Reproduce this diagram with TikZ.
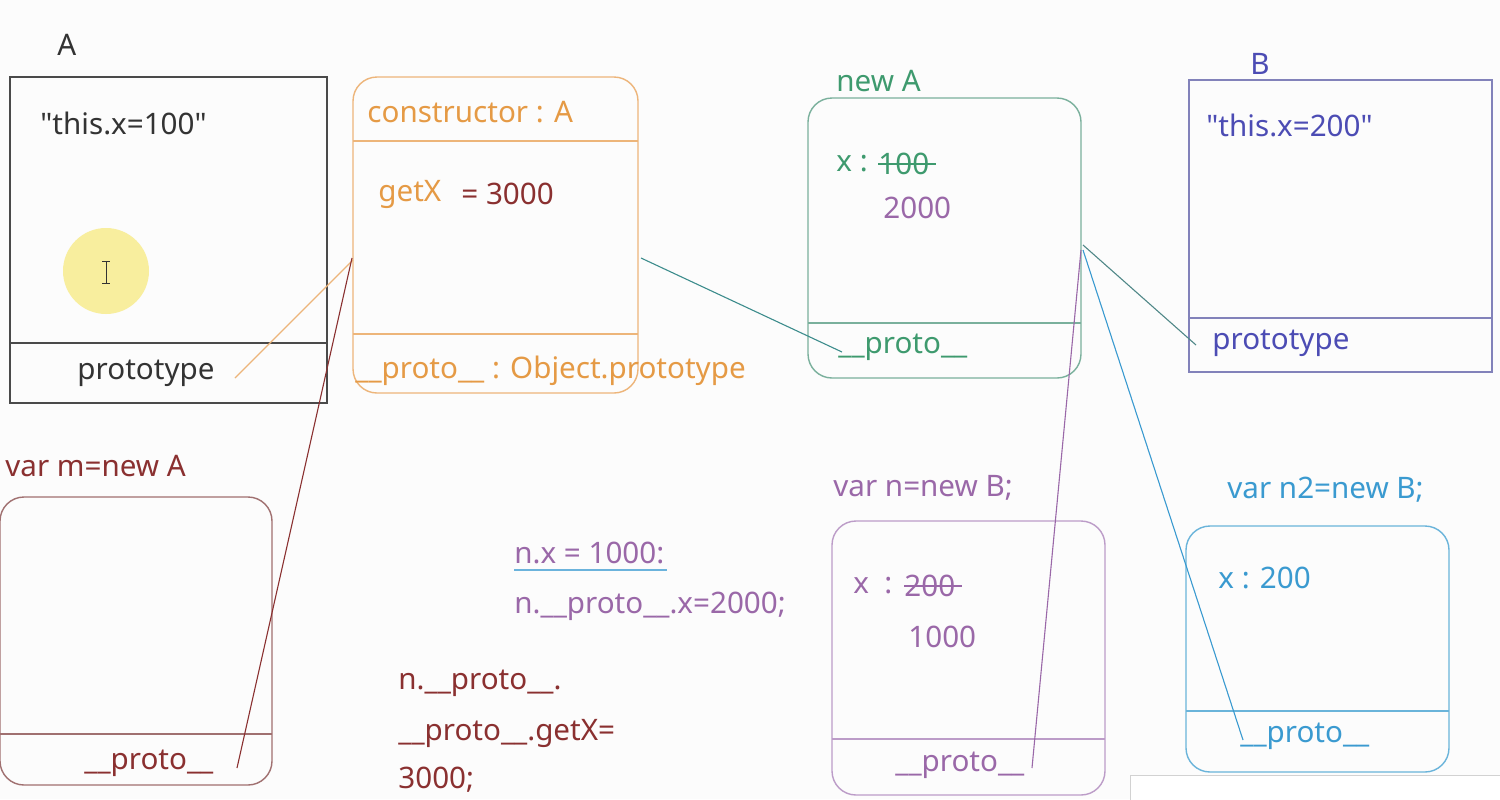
\documentclass[tikz,border=0pt]{standalone}
\usepackage{fontspec}
\setmainfont{Noto Sans}[Ligatures=TeXOff]
\usetikzlibrary{fit}
\definecolor{cA}{HTML}{333333}
\definecolor{cAbox}{HTML}{4A4A4A}
\definecolor{cOr}{HTML}{E59A45}
\definecolor{cOrBox}{HTML}{EDB57A}
\definecolor{cGr}{HTML}{3E9A6E}
\definecolor{cGrBox}{HTML}{7AB09C}
\definecolor{cB}{HTML}{4C4CB4}
\definecolor{cBBox}{HTML}{8282BA}
\definecolor{cM}{HTML}{8A3030}
\definecolor{cMBox}{HTML}{A07070}
\definecolor{cN}{HTML}{9A68A8}
\definecolor{cNBox}{HTML}{BC9CC8}
\definecolor{cC}{HTML}{3A9AD0}
\definecolor{cCBox}{HTML}{6AB4DA}
\definecolor{cTeal}{HTML}{3C8C8C}
\definecolor{cHi}{HTML}{F8EE9E}
\begin{document}
\begin{tikzpicture}[x=0.5pt,y=-0.5pt,
  font=\fontsize{14.8}{17}\selectfont,
  txt/.style={anchor=west, inner sep=0pt},
  ctxt/.style={anchor=center, inner sep=0pt},
  sqbox/.style={draw, inner sep=0pt, line width=0.7pt},
  rbox/.style={draw, inner sep=0pt, line width=0.7pt, rounded corners=12pt},
  link/.style={line width=0.55pt}]
\fill[white!98!gray] (0,0) rectangle (1500,799);
\useasboundingbox (0,0) rectangle (1500,799);

% ---------- Box A ----------
\coordinate (a1) at (10,77); \coordinate (a2) at (327,403);
\node[sqbox, cAbox, fit=(a1)(a2)] (boxA) {};
\draw[cAbox, line width=0.7pt] (10,343) -- (327,343);
\node[txt, cA] (lA) at (57,45) {A};
\node[txt, cA] (tAx) at (40,123) {"this.x=100"};
\fill[cHi] (106,271) circle[radius=43];
\draw[cA, line width=0.5pt] (106,261) -- (106,283) (102,261) -- (110,261) (102,283) -- (110,283);
\node[ctxt, cA] (tAp) at (146,373) {prototype};

% ---------- Orange prototype box ----------
\coordinate (o1) at (353,77); \coordinate (o2) at (638,393);
\node[rbox, cOrBox, fit=(o1)(o2)] (boxO) {};
\draw[cOrBox, line width=0.7pt] (353,141) -- (638,141) (353,334) -- (638,334);
\node[txt, cOr] (oCon) at (367,112) {constructor : A};
\node[txt, cOr] (oGet) at (378,194) {getX};
\node[txt, cM] (oVal) at (461,194) {= 3000};
\node[txt, cOr] (oProto) at (355,371) {\_\_proto\_\_ : Object.prototype};

% ---------- Green new A ----------
\coordinate (g1) at (808,98); \coordinate (g2) at (1081,378);
\node[rbox, cGrBox, fit=(g1)(g2)] (boxG) {};
\draw[cGrBox, line width=0.7pt] (808,323) -- (1081,323);
\node[txt, cGr] (gLab) at (836,81) {new A};
\node[txt, cGr] (gx) at (836,164) {x :};
\node[txt, cGr] (g100) at (878,164) {100};
\draw[cGr, line width=0.6pt] (g100.west) -- ([xshift=3pt]g100.east);
\node[txt, cN] (g2000) at (883,208) {2000};
\node[txt, cGr] (gProto) at (838,347) {\_\_proto\_\_};

% ---------- Box B ----------
\coordinate (b1) at (1189,80); \coordinate (b2) at (1492,372);
\node[sqbox, cBBox, fit=(b1)(b2)] (boxB) {};
\draw[cBBox, line width=0.7pt] (1189,318) -- (1492,318);
\node[txt, cB] (bLab) at (1250,64) {B};
\node[txt, cB] (bThis) at (1206,125) {"this.x=200"};
\node[txt, cB] (bProto) at (1212,343) {prototype};

% ---------- var m ----------
\coordinate (m1) at (0,497); \coordinate (m2) at (272,785);
\node[rbox, cMBox, fit=(m1)(m2)] (boxM) {};
\draw[cMBox, line width=0.7pt] (0,734) -- (272,734);
\node[txt, cM] (mLab) at (5,466) {var m=new A};
\node[txt, cM] (mProto) at (84,763) {\_\_proto\_\_};

% ---------- var n ----------
\coordinate (n1) at (832,521); \coordinate (n2) at (1105,795);
\node[rbox, cNBox, fit=(n1)(n2)] (boxN) {};
\draw[cNBox, line width=0.7pt] (832,739) -- (1105,739);
\node[txt, cN] (nLab) at (833,488) {var n=new B;};
\node[txt, cN] (nx) at (853,586) {x~~:};
\node[txt, cN] (n200) at (904,586) {200};
\draw[cN, line width=0.6pt] (n200.west) -- ([xshift=3pt]n200.east);
\node[txt, cN] (n1000) at (908,637) {1000};
\node[txt, cN] (nProto) at (895,765) {\_\_proto\_\_};

% ---------- var n2 ----------
\coordinate (c1) at (1186,526); \coordinate (c2) at (1449,772);
\node[rbox, cCBox, fit=(c1)(c2)] (boxC) {};
\draw[cCBox, line width=0.7pt] (1186,711) -- (1449,711);
\node[txt, cC] (cLab) at (1227,490) {var n2=new B;};
\node[txt, cC] (cx) at (1218,578) {x : 200};
\node[txt, cC] (cProto) at (1240,736) {\_\_proto\_\_};

% ---------- statements ----------
\node[txt, cN] (s1) at (514,553) {n.x = 1000:};
\coordinate (u1) at (514,570); \coordinate (u2) at (667,570);
\draw[cC!75, line width=0.9pt] (u1) -- (u2);
\node[txt, cN] (s2) at (514,606) {n.\_\_proto\_\_.x=2000;};
\node[txt, cM] (s3) at (398,683) {n.\_\_proto\_\_.};
\node[txt, cM] (s4) at (398,733) {\_\_proto\_\_.getX=};
\node[txt, cM] (s5) at (398,780) {3000;};

% ---------- connectors ----------
\coordinate (e1) at (235,378);  \coordinate (oL1) at (353,260);
\coordinate (e2) at (237,768);  \coordinate (oL2) at (352,258);
\coordinate (oR) at (641,258);  \coordinate (e3) at (842,352);
\coordinate (gR1) at (1083,245); \coordinate (e4) at (1196,345);
\coordinate (e5) at (1032,768); \coordinate (gR2) at (1081,250);
\coordinate (e6) at (1243,740); \coordinate (gR3) at (1083,250);
\draw[link, cOrBox] (e1) -- (oL1);
\draw[link, cM] (e2) -- (oL2);
\draw[link, cTeal] (oR) -- (e3);
\draw[link, cTeal!70!gray] (gR1) -- (e4);
\draw[link, cN] (e5) -- (gR2);
\draw[link, cC] (e6) -- (gR3);

% ---------- toolbar fragment ----------
\coordinate (t1) at (1130,775); \coordinate (t2) at (1510,815);
\node[draw=gray!35, fill=white, inner sep=0pt, fit=(t1)(t2)] (tool) {};
\end{tikzpicture}
\end{document}
